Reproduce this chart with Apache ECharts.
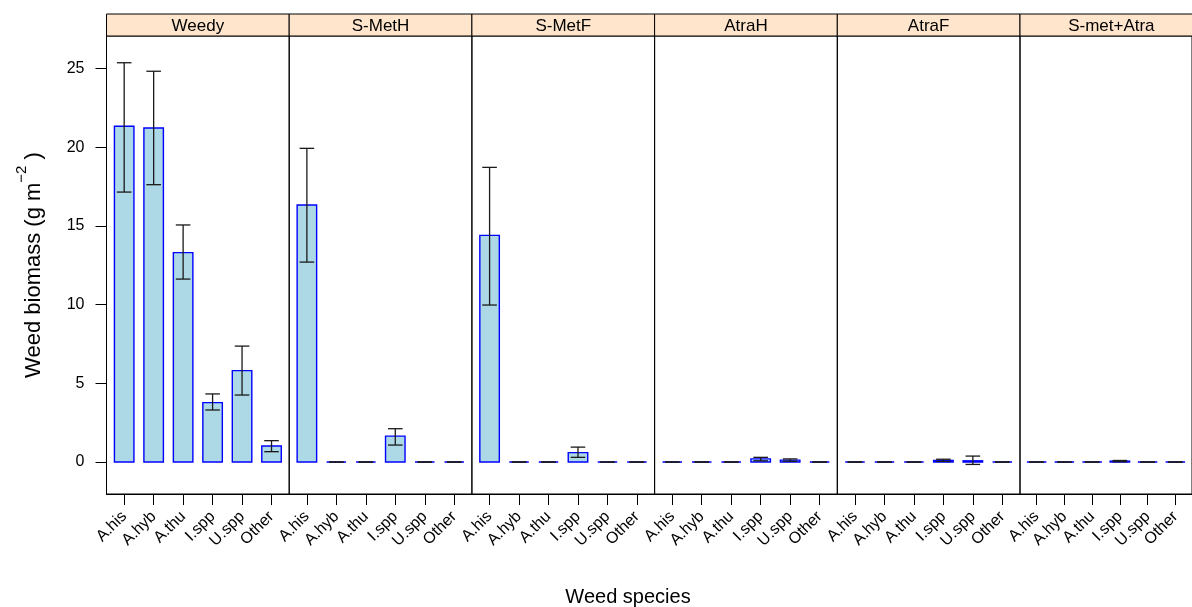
<!DOCTYPE html>
<html>
<head>
<meta charset="utf-8">
<script src="https://cdn.jsdelivr.net/npm/echarts@6/dist/echarts.min.js"></script>
<style>
  html, body { margin: 0; padding: 0; background: #fff; }
  #chart { width: 1192px; height: 607px; }
</style>
</head>
<body>
<div id="chart"></div>
<script>
// panels and categories
const panels = ['Weedy', 'S-MetH', 'S-MetF', 'AtraH', 'AtraF', 'S-met+Atra']
const species = ['A.his', 'A.hyb', 'A.thu', 'I.spp', 'U.spp', 'Other']
const yTicks = [0, 5, 10, 15, 20, 25]

// mean biomass and error bar limits, one set per panel
const weedyMean = [21.34, 21.23, 13.31, 3.78, 5.81, 1.02]
const weedyLow = [17.16, 17.63, 11.63, 3.31, 4.26, 0.66]
const weedyHigh = [25.38, 24.84, 15.07, 4.33, 7.37, 1.36]

const smethMean = [16.34, 0, 0, 1.65, 0, 0]
const smethLow = [12.71, 0, 0, 1.08, 0, 0]
const smethHigh = [19.94, 0, 0, 2.12, 0, 0]

const smetfMean = [14.41, 0, 0, 0.6, 0, 0]
const smetfLow = [9.98, 0, 0, 0.3, 0, 0]
const smetfHigh = [18.73, 0, 0, 0.95, 0, 0]

const atrahMean = [0, 0, 0, 0.2, 0.12, 0]
const atrahLow = [0, 0, 0, 0.08, 0.05, 0]
const atrahHigh = [0, 0, 0, 0.3, 0.2, 0]

const atrafMean = [0, 0, 0, 0.1, 0.08, 0]
const atrafLow = [0, 0, 0, 0.04, -0.15, 0]
const atrafHigh = [0, 0, 0, 0.18, 0.38, 0]

const smetAtraMean = [0, 0, 0, 0.06, 0, 0]
const smetAtraLow = [0, 0, 0, 0.02, 0, 0]
const smetAtraHigh = [0, 0, 0, 0.1, 0, 0]

const means = [weedyMean, smethMean, smetfMean, atrahMean, atrafMean, smetAtraMean]
const lows = [weedyLow, smethLow, smetfLow, atrahLow, atrafLow, smetAtraLow]
const highs = [weedyHigh, smethHigh, smetfHigh, atrahHigh, atrafHigh, smetAtraHigh]

const font = '"Liberation Sans", Arial, Helvetica, sans-serif'
const left0 = 106.5
const panelW = 182.7
const plotTop = 36
const plotH = 458
const stripH = 22
const barW = 19.5

const chart = echarts.init(document.getElementById('chart'))

const grids = []
const xAxes = []
const yAxes = []
const series = []
const graphics = []

// bar + error bar drawn together; polygon so zero-height bars still show as a blue line
function renderBar(params, api) {
  const x = api.value(0)
  const base = api.coord([x, 0])
  const top = api.coord([x, api.value(1)])
  const lo = api.coord([x, api.value(2)])
  const hi = api.coord([x, api.value(3)])
  const x1 = base[0] - barW / 2
  const x2 = base[0] + barW / 2
  const cap = 7.3
  const st = { stroke: '#1a1a1a', lineWidth: 1.3, fill: null }
  return {
    type: 'group',
    children: [
      {
        type: 'polygon',
        shape: { points: [[x1, base[1]], [x1, top[1]], [x2, top[1]], [x2, base[1]]] },
        style: { fill: '#ADD8E6', stroke: '#0000FF', lineWidth: 1.4 }
      },
      { type: 'line', shape: { x1: hi[0], y1: hi[1], x2: lo[0], y2: lo[1] }, style: st },
      { type: 'line', shape: { x1: hi[0] - cap, y1: hi[1], x2: hi[0] + cap, y2: hi[1] }, style: st },
      { type: 'line', shape: { x1: lo[0] - cap, y1: lo[1], x2: lo[0] + cap, y2: lo[1] }, style: st }
    ]
  }
}

panels.forEach((p, i) => {
  const left = left0 + i * panelW
  grids.push({
    left: left,
    top: plotTop,
    width: panelW,
    height: plotH,
    show: true,
    borderColor: '#000',
    borderWidth: 1,
    backgroundColor: 'transparent'
  })
  xAxes.push({
    type: 'value',
    gridIndex: i,
    min: 0.4,
    max: 6.6,
    splitLine: { show: false },
    axisLine: { show: true, onZero: false, lineStyle: { color: '#000', width: 1 } },
    axisTick: {
      show: true,
      customValues: [1, 2, 3, 4, 5, 6],
      length: 11,
      lineStyle: { color: '#000', width: 1 }
    },
    axisLabel: {
      show: true,
      customValues: [1, 2, 3, 4, 5, 6],
      formatter: v => species[Math.round(v) - 1],
      rotate: 45,
      margin: 20,
      color: '#000',
      fontSize: 16,
      fontFamily: font
    }
  })
  const yAxis = {
    type: 'value',
    gridIndex: i,
    min: -2.03,
    max: 27.08,
    splitLine: { show: false },
    axisLine: { show: i === 0, onZero: false, lineStyle: { color: '#000', width: 1 } },
    axisTick: {
      show: i === 0,
      customValues: yTicks,
      length: 11,
      lineStyle: { color: '#000', width: 1 }
    },
    axisLabel: {
      show: i === 0,
      customValues: yTicks,
      margin: 22,
      color: '#000',
      fontSize: 16,
      fontFamily: font
    }
  }
  if (i === 0) {
    yAxis.name = '{t|Weed biomass (g m}{s|\u22122}{t| )}'
    yAxis.nameLocation = 'middle'
    yAxis.nameGap = 62
    yAxis.nameTextStyle = {
      color: '#000',
      fontFamily: font,
      rich: {
        t: { fontSize: 22, fontFamily: font, color: '#000', lineHeight: 30, verticalAlign: 'bottom' },
        s: { fontSize: 15, fontFamily: font, color: '#000', lineHeight: 30, verticalAlign: 'top' }
      }
    }
  }
  yAxes.push(yAxis)

  series.push({
    type: 'custom',
    xAxisIndex: i,
    yAxisIndex: i,
    data: species.map((s, j) => [j + 1, means[i][j], lows[i][j], highs[i][j]]),
    renderItem: renderBar
  })

  // strip header
  graphics.push({
    type: 'rect',
    shape: { x: left, y: plotTop - stripH, width: panelW, height: stripH },
    style: { fill: '#FFE5CC', stroke: '#000', lineWidth: 1 },
    z: 10
  })
  graphics.push({
    type: 'text',
    x: left + panelW / 2,
    y: plotTop - stripH / 2 + 1,
    style: {
      text: p,
      font: '17px ' + font,
      fill: '#000',
      align: 'center',
      verticalAlign: 'middle'
    },
    z: 11
  })
})

graphics.push({
  type: 'text',
  x: 628,
  y: 597,
  style: {
    text: 'Weed species',
    font: '20px ' + font,
    fill: '#000',
    align: 'center',
    verticalAlign: 'middle'
  }
})

chart.setOption({
  animation: false,
  backgroundColor: '#fff',
  grid: grids,
  xAxis: xAxes,
  yAxis: yAxes,
  series: series,
  graphic: graphics
})
</script>
</body>
</html>
